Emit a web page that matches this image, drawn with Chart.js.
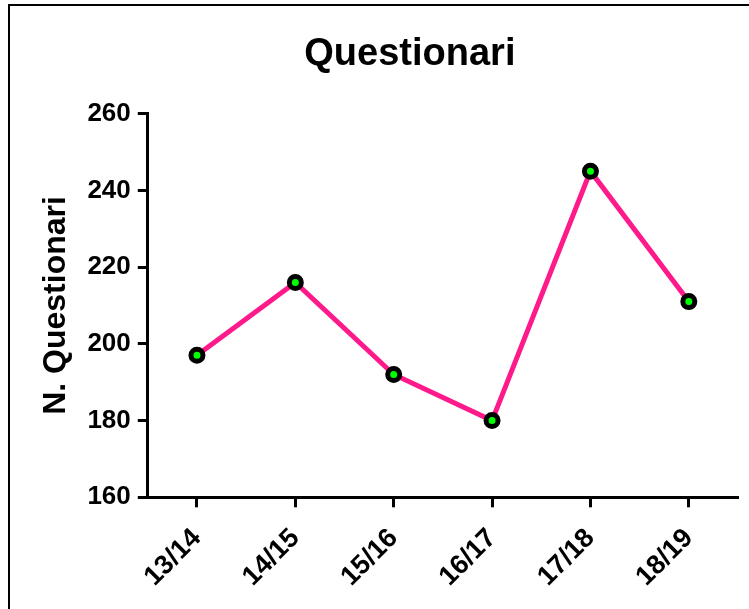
<!DOCTYPE html>
<html>
<head>
<meta charset="utf-8">
<title>Questionari</title>
<script src="https://cdn.jsdelivr.net/npm/chart.js@4.4.1/dist/chart.umd.min.js"></script>
<style>
  body { margin: 0; background: #fff; }
  canvas { display: block; }
</style>
</head>
<body>
<canvas id="chart" width="749" height="609"></canvas>
<script>
const years = ["13/14", "14/15", "15/16", "16/17", "17/18", "18/19"];
const questionari = [197, 216, 192, 180, 245, 211];
const yTicks = [160, 180, 200, 220, 240, 260];

const FONT = "Arial, 'Liberation Sans', Helvetica, sans-serif";

// frame round the picture + title moved to where the original has it
const frame = {
  id: "frame",
  afterLayout(chart) {
    const t = chart.titleBlock;
    if (t) t.left = chart.chartArea.left - 66;
  },
  beforeDraw(chart) {
    const ctx = chart.ctx;
    ctx.save();
    ctx.fillStyle = "#fff";
    ctx.fillRect(0, 0, chart.width, chart.height);
    ctx.strokeStyle = "#000";
    ctx.lineWidth = 2;
    ctx.beginPath();
    ctx.moveTo(9, chart.height);
    ctx.lineTo(9, 5);
    ctx.lineTo(chart.width, 5);
    ctx.stroke();
    ctx.restore();
  }
};

const ctx = document.getElementById("chart");

new Chart(ctx, {
  type: "line",
  data: {
    labels: years,
    datasets: [{
      label: "N. Questionari",
      data: questionari,
      borderColor: "#ff1a8c",
      borderWidth: 5,
      tension: 0,
      pointRadius: 6,
      pointBorderWidth: 5,
      pointBorderColor: "#000",
      pointBackgroundColor: "#00ff00",
      pointHoverRadius: 6
    }]
  },
  options: {
    responsive: false,
    animation: false,
    layout: {
      padding: { top: 12, left: 12, right: 11, bottom: 1 }
    },
    plugins: {
      legend: { display: false },
      tooltip: { enabled: false },
      title: {
        display: true,
        text: "Questionari",
        color: "#000",
        font: { family: FONT, size: 38, weight: "bold" },
        padding: { top: 20, bottom: 36 }
      }
    },
    scales: {
      x: {
        offset: true,
        grid: {
          offset: false,
          drawOnChartArea: false,
          drawTicks: true,
          tickLength: 10,
          tickWidth: 3,
          tickColor: "#000"
        },
        border: { display: true, color: "#000", width: 3 },
        ticks: {
          color: "#000",
          font: { family: FONT, size: 27, weight: "bold" },
          minRotation: 45,
          maxRotation: 45,
          autoSkip: false,
          padding: 15
        }
      },
      y: {
        min: yTicks[0],
        max: yTicks[yTicks.length - 1],
        afterBuildTicks(scale) {
          scale.ticks = yTicks.map(v => ({ value: v }));
        },
        grid: {
          drawOnChartArea: false,
          drawTicks: true,
          tickLength: 10,
          tickWidth: 3,
          tickColor: "#000"
        },
        border: { display: true, color: "#000", width: 3 },
        ticks: {
          color: "#000",
          font: { family: FONT, size: 26, weight: "bold" },
          padding: 7
        },
        title: {
          display: true,
          text: "N. Questionari",
          color: "#000",
          font: { family: FONT, size: 32, weight: "bold" },
          padding: { top: 25, bottom: 5 }
        }
      }
    }
  },
  plugins: [frame]
});
</script>
</body>
</html>
